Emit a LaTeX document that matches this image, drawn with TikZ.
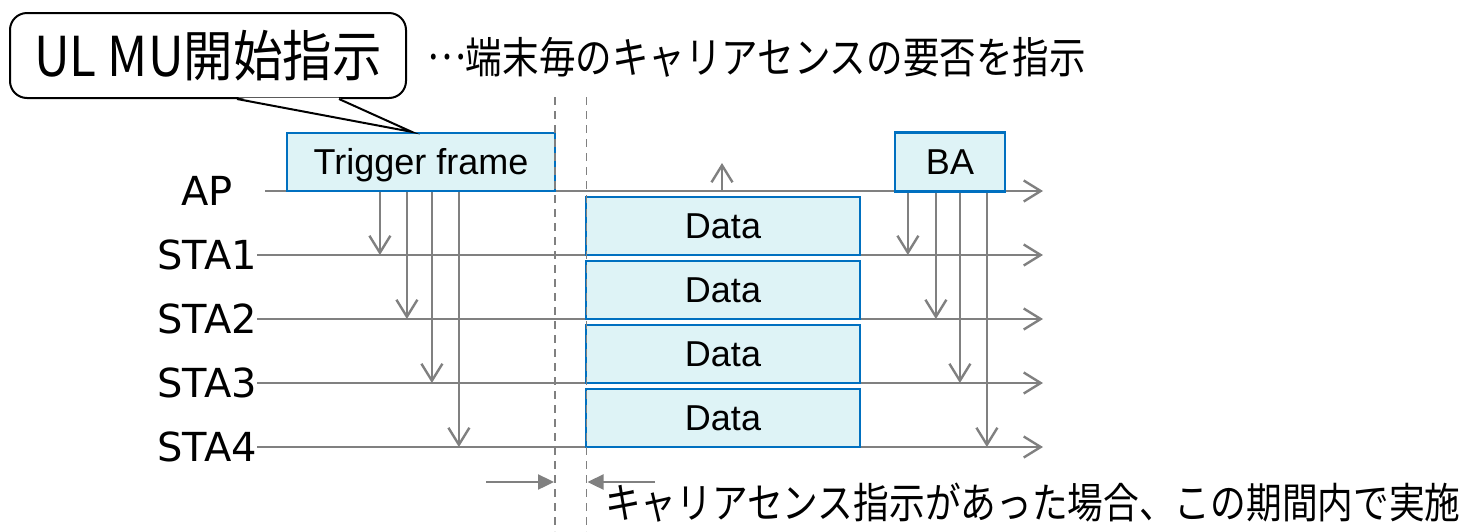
\documentclass[tikz,border=0pt]{standalone}
\usepackage{graphicx}
\usepackage{fontspec}
\newfontfamily\jpfont{Noto Sans CJK JP}
\newfontfamily\latfont{Liberation Sans}
\newfontfamily\dvfont{DejaVu Sans}
\usetikzlibrary{arrows.meta,calc}
\definecolor{lgray}{RGB}{128,128,128}
\definecolor{boxblue}{RGB}{0,112,192}
\definecolor{boxfill}{RGB}{222,243,246}
\begin{document}
\begin{tikzpicture}[x=1pt,y=-1pt,
  frm/.style={draw=boxblue, fill=boxfill, line width=2.2pt, inner sep=0pt,
    text height=25.8pt, text depth=0pt, font=\latfont\fontsize{36}{40}\selectfont},
  tl/.style={draw=lgray, line width=2.4pt, -{Straight Barb[length=17pt,width=21pt]}},
  lbl/.style={anchor=east, inner sep=0pt, font=\dvfont\fontsize{40}{46}\selectfont},
  dsh/.style={draw=lgray, line width=1.6pt, dash pattern=on 8pt off 6pt},
  sarr/.style={draw=lgray, line width=2.4pt, -{Triangle[length=16pt,width=15pt]}},
  note/.style={anchor=west, inner sep=0pt},
]
\useasboundingbox (0,0) rectangle (1468,531);

% labels and time lines
\node[lbl] (lap) at (233,191) {AP};
\coordinate (apE) at (1043,191);
\draw[tl] ([xshift=32pt]lap.east) -- (apE);
\foreach \i in {1,...,4}{
  \node[lbl] (l\i) at (257,{255+64*(\i-1)}) {STA\i};
  \coordinate (e\i) at (1043,{255+64*(\i-1)});
  \draw[tl] (l\i.east) -- (e\i);
}

% frames
\node[frm, minimum width=268pt, minimum height=58pt] (trig) at (421,162) {Trigger frame};
\node[frm, minimum width=110pt, minimum height=59pt] (ba) at (950,162) {BA};
\foreach \i in {1,...,4}{
  \node[frm, minimum width=274pt, minimum height=58pt] (d\i) at (723,{226+64*(\i-1)}) {Data};
}

% trigger -> STA arrows
\foreach \i/\dx in {1/94,2/121,3/146,4/173}{
  \coordinate (t\i) at ([xshift=\dx pt]trig.south west);
  \draw[tl] (t\i) -- (t\i |- l\i.east);
}
% BA -> STA arrows
\foreach \i/\dx in {1/14,2/42,3/66,4/93}{
  \coordinate (b\i) at ([xshift=\dx pt]ba.south west);
  \draw[tl] (b\i) -- (b\i |- l\i.east);
}
% up arrow on AP line
\coordinate (u0) at (722,191);
\coordinate (u1) at (722,163);
\draw[tl] (u0) -- (u1);

% dashed guides
\coordinate (ga1) at (555,97); \coordinate (ga2) at (555,531);
\coordinate (gb1) at (586.5,97); \coordinate (gb2) at (586.5,531);
\draw[dsh] (ga1) -- (ga2);
\draw[dsh] (gb1) -- (gb2);

% interval arrows
\coordinate (ia1) at (486,482); \coordinate (ia2) at (554,482);
\coordinate (ib1) at (655,482); \coordinate (ib2) at (587.5,482);
\draw[sarr] (ia1) -- (ia2);
\draw[sarr] (ib1) -- (ib2);

% callout
\node[draw=black, line width=2pt, fill=white, rounded corners=17pt,
      minimum width=396pt, minimum height=85pt, inner sep=0pt,
      font=\jpfont\fontsize{55}{60}\selectfont] (ulmu) at (208,55.5)
      {\scalebox{0.9}[1]{UL MU開始指示}};
\coordinate (tip) at ([xshift=126pt]trig.north west);
\coordinate (pb1) at ([xshift=228pt]ulmu.south west);
\coordinate (pb2) at ([xshift=330pt]ulmu.south west);
\fill[white] ([xshift=1pt,yshift=1.5pt]pb1) -- (tip) -- ([xshift=-1pt,yshift=1.5pt]pb2) -- cycle;
\draw[line width=2pt, line join=miter] (pb1) -- (tip) -- (pb2);

% notes
\node[note] (n1) at (427,57)
  {\scalebox{0.85}[1]{\jpfont\fontsize{43}{50}\selectfont \raisebox{14pt}{…}端末毎のキャリアセンスの要否を指示}};
\node[note] (n2) at (605,503)
  {\scalebox{0.85}[1]{\jpfont\fontsize{42}{50}\selectfont キャリアセンス指示があった場合、この期間内で実施}};
\end{tikzpicture}
\end{document}
